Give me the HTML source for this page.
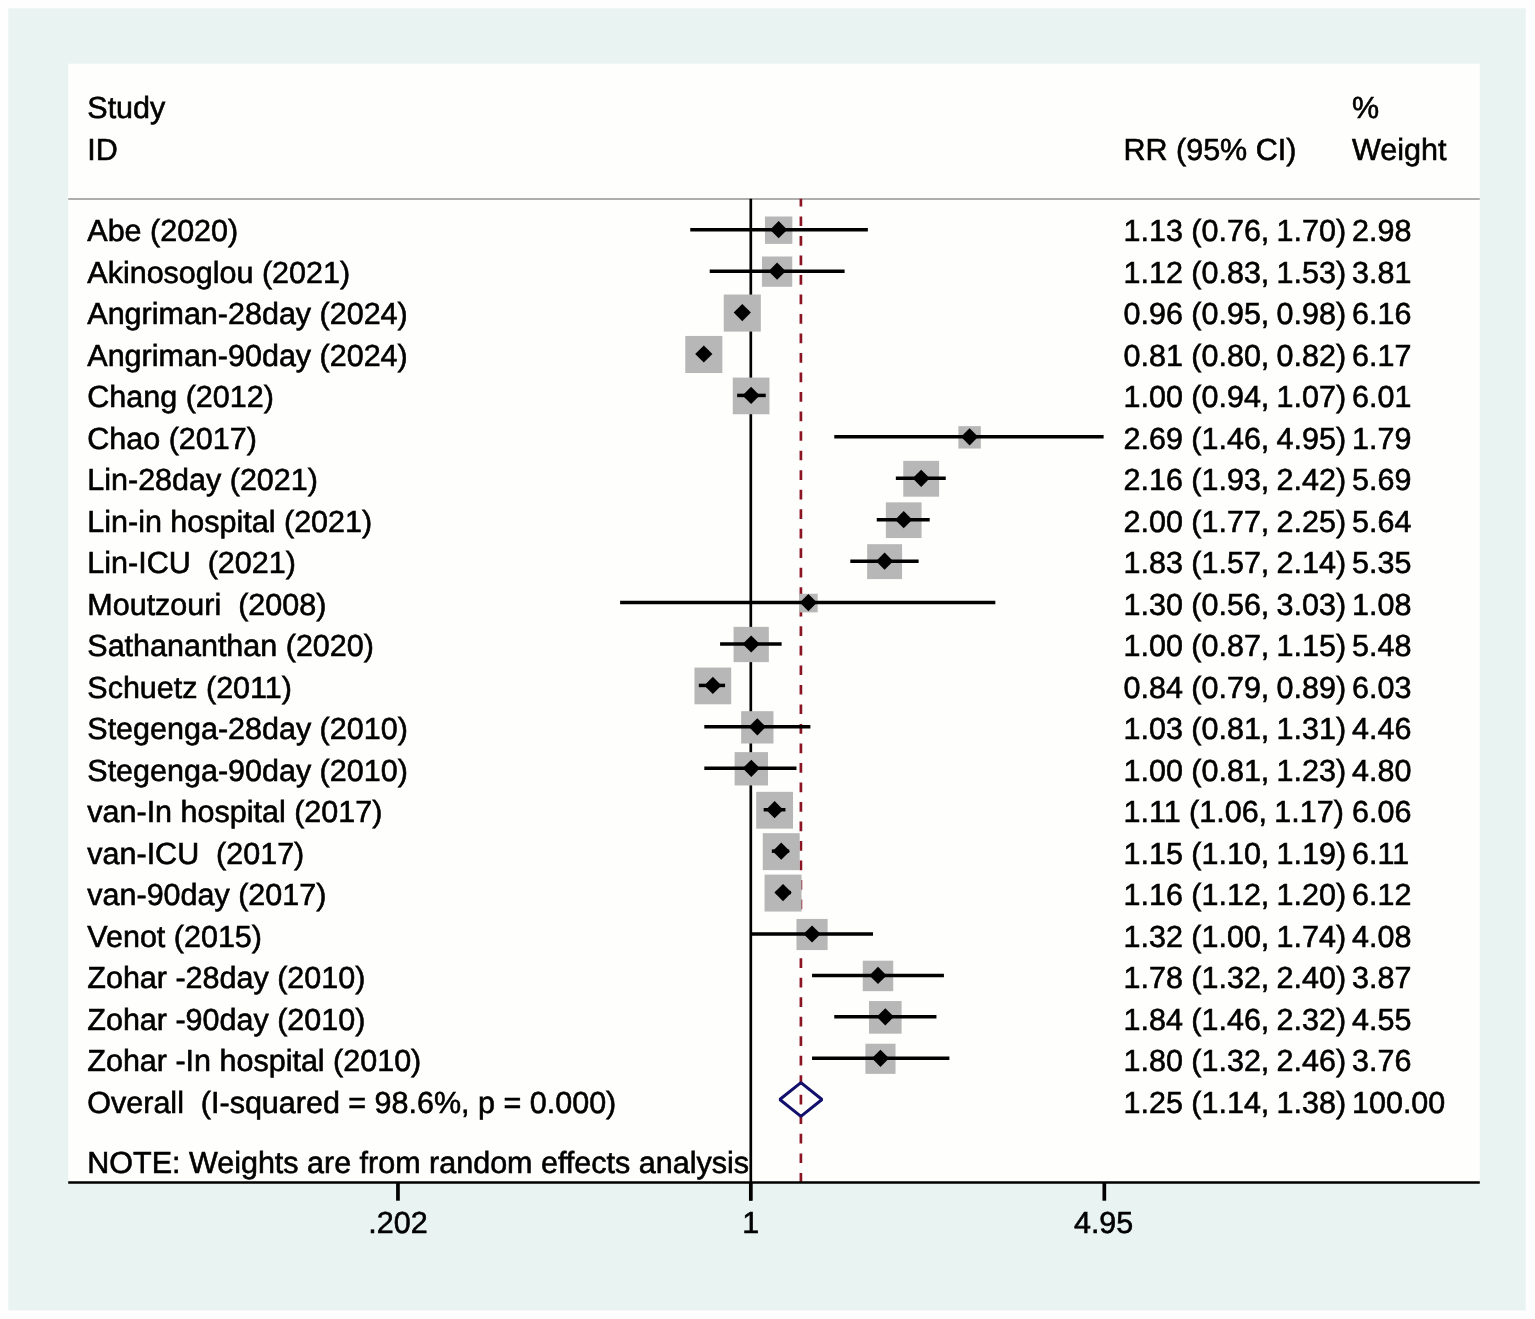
<!DOCTYPE html>
<html lang="en"><head><meta charset="utf-8"><title>Forest plot</title>
<style>html,body{margin:0;padding:0;background:#fff}body{width:1535px;height:1319px;overflow:hidden}svg{display:block}text{font-family:"Liberation Sans",Arial,Helvetica,sans-serif;font-size:30.5px;fill:#000;white-space:pre;text-rendering:geometricPrecision;stroke:#000;stroke-width:0.6px}</style></head><body>
<svg width="1535" height="1319" viewBox="0 0 1535 1319">
<rect x="0" y="0" width="1535" height="1319" fill="#fefefe"/>
<rect x="8.3" y="8.3" width="1517.4" height="1302.1" fill="#e9f3f1"/>
<rect x="68.2" y="63.7" width="1411.6" height="1118.8" fill="#fefefd"/>
<line x1="68.2" y1="199.1" x2="1479.8" y2="199.1" stroke="#aeaeae" stroke-width="2"/>
<line x1="750.8" y1="198.8" x2="750.8" y2="1200.6" stroke="#000" stroke-width="2.7"/>
<clipPath id="c"><rect x="700" y="198.8" width="200" height="983.4"/></clipPath>
<line clip-path="url(#c)" x1="800.9" y1="196.9" x2="800.9" y2="1187.5" stroke="#8a1422" stroke-width="2.7" stroke-dasharray="9.7 9.82"/>
<rect x="764.96" y="216.50" width="27.40" height="27.40" fill="#b7b7b7"/>
<rect x="761.96" y="256.49" width="30.28" height="30.28" fill="#b7b7b7"/>
<rect x="723.76" y="294.53" width="37.07" height="37.07" fill="#b7b7b7"/>
<rect x="685.27" y="335.94" width="37.09" height="37.09" fill="#b7b7b7"/>
<rect x="732.76" y="377.58" width="36.68" height="36.68" fill="#b7b7b7"/>
<rect x="958.38" y="426.14" width="22.43" height="22.43" fill="#b7b7b7"/>
<rect x="903.27" y="460.86" width="35.83" height="35.83" fill="#b7b7b7"/>
<rect x="885.86" y="502.36" width="35.70" height="35.70" fill="#b7b7b7"/>
<rect x="867.16" y="544.19" width="34.91" height="34.91" fill="#b7b7b7"/>
<rect x="799.08" y="593.77" width="18.60" height="18.60" fill="#b7b7b7"/>
<rect x="733.57" y="626.87" width="35.26" height="35.26" fill="#b7b7b7"/>
<rect x="694.47" y="667.56" width="36.73" height="36.73" fill="#b7b7b7"/>
<rect x="741.15" y="711.19" width="32.33" height="32.33" fill="#b7b7b7"/>
<rect x="734.63" y="752.12" width="33.34" height="33.34" fill="#b7b7b7"/>
<rect x="756.22" y="791.82" width="36.81" height="36.81" fill="#b7b7b7"/>
<rect x="762.76" y="833.18" width="36.94" height="36.94" fill="#b7b7b7"/>
<rect x="764.56" y="874.60" width="36.97" height="36.97" fill="#b7b7b7"/>
<rect x="796.47" y="918.93" width="31.15" height="31.15" fill="#b7b7b7"/>
<rect x="862.76" y="960.70" width="30.48" height="30.48" fill="#b7b7b7"/>
<rect x="869.01" y="1001.07" width="32.60" height="32.60" fill="#b7b7b7"/>
<rect x="865.41" y="1043.74" width="30.12" height="30.12" fill="#b7b7b7"/>
<line x1="690.26" y1="229.70" x2="867.86" y2="229.70" stroke="#000" stroke-width="3.5"/>
<path d="M770.06 229.70 L778.66 221.10 L787.26 229.70 L778.66 238.30Z" fill="#000"/>
<line x1="709.70" y1="271.13" x2="844.61" y2="271.13" stroke="#000" stroke-width="3.5"/>
<path d="M768.50 271.13 L777.10 262.53 L785.70 271.13 L777.10 279.73Z" fill="#000"/>
<line x1="739.48" y1="312.56" x2="746.34" y2="312.56" stroke="#000" stroke-width="3.5"/>
<path d="M733.69 312.56 L742.29 303.96 L750.89 312.56 L742.29 321.16Z" fill="#000"/>
<line x1="701.57" y1="353.99" x2="707.02" y2="353.99" stroke="#000" stroke-width="3.5"/>
<path d="M695.21 353.99 L703.81 345.39 L712.41 353.99 L703.81 362.59Z" fill="#000"/>
<line x1="737.15" y1="395.42" x2="765.73" y2="395.42" stroke="#000" stroke-width="3.5"/>
<path d="M742.50 395.42 L751.10 386.82 L759.70 395.42 L751.10 404.02Z" fill="#000"/>
<line x1="834.28" y1="436.85" x2="1103.62" y2="436.85" stroke="#000" stroke-width="3.5"/>
<path d="M960.99 436.85 L969.59 428.25 L978.19 436.85 L969.59 445.45Z" fill="#000"/>
<line x1="895.85" y1="478.28" x2="945.76" y2="478.28" stroke="#000" stroke-width="3.5"/>
<path d="M912.59 478.28 L921.19 469.68 L929.79 478.28 L921.19 486.88Z" fill="#000"/>
<line x1="876.76" y1="519.71" x2="929.69" y2="519.71" stroke="#000" stroke-width="3.5"/>
<path d="M895.11 519.71 L903.71 511.11 L912.31 519.71 L903.71 528.31Z" fill="#000"/>
<line x1="850.31" y1="561.14" x2="918.63" y2="561.14" stroke="#000" stroke-width="3.5"/>
<path d="M876.01 561.14 L884.61 552.54 L893.21 561.14 L884.61 569.74Z" fill="#000"/>
<line x1="620.12" y1="602.57" x2="995.35" y2="602.57" stroke="#000" stroke-width="3.5"/>
<path d="M799.78 602.57 L808.38 593.97 L816.98 602.57 L808.38 611.17Z" fill="#000"/>
<line x1="720.08" y1="644.00" x2="781.63" y2="644.00" stroke="#000" stroke-width="3.5"/>
<path d="M742.60 644.00 L751.20 635.40 L759.80 644.00 L751.20 652.60Z" fill="#000"/>
<line x1="698.80" y1="685.43" x2="725.09" y2="685.43" stroke="#000" stroke-width="3.5"/>
<path d="M704.24 685.43 L712.84 676.83 L721.44 685.43 L712.84 694.03Z" fill="#000"/>
<line x1="704.31" y1="726.86" x2="810.37" y2="726.86" stroke="#000" stroke-width="3.5"/>
<path d="M748.72 726.86 L757.32 718.26 L765.92 726.86 L757.32 735.46Z" fill="#000"/>
<line x1="704.31" y1="768.29" x2="796.47" y2="768.29" stroke="#000" stroke-width="3.5"/>
<path d="M742.70 768.29 L751.30 759.69 L759.90 768.29 L751.30 776.89Z" fill="#000"/>
<line x1="763.65" y1="809.72" x2="785.44" y2="809.72" stroke="#000" stroke-width="3.5"/>
<path d="M766.02 809.72 L774.62 801.12 L783.22 809.72 L774.62 818.32Z" fill="#000"/>
<line x1="771.83" y1="851.15" x2="789.17" y2="851.15" stroke="#000" stroke-width="3.5"/>
<path d="M772.63 851.15 L781.23 842.55 L789.83 851.15 L781.23 859.75Z" fill="#000"/>
<line x1="775.80" y1="892.58" x2="791.02" y2="892.58" stroke="#000" stroke-width="3.5"/>
<path d="M774.44 892.58 L783.04 883.98 L791.64 892.58 L783.04 901.18Z" fill="#000"/>
<line x1="750.80" y1="934.01" x2="872.99" y2="934.01" stroke="#000" stroke-width="3.5"/>
<path d="M803.45 934.01 L812.05 925.41 L820.65 934.01 L812.05 942.61Z" fill="#000"/>
<line x1="812.05" y1="975.44" x2="943.93" y2="975.44" stroke="#000" stroke-width="3.5"/>
<path d="M869.40 975.44 L878.00 966.84 L886.60 975.44 L878.00 984.04Z" fill="#000"/>
<line x1="834.28" y1="1016.87" x2="936.45" y2="1016.87" stroke="#000" stroke-width="3.5"/>
<path d="M876.71 1016.87 L885.31 1008.27 L893.91 1016.87 L885.31 1025.47Z" fill="#000"/>
<line x1="812.05" y1="1058.30" x2="949.38" y2="1058.30" stroke="#000" stroke-width="3.5"/>
<path d="M871.87 1058.30 L880.47 1049.70 L889.07 1058.30 L880.47 1066.90Z" fill="#000"/>
<path d="M779.8 1099.50 L800.9 1082.60 L822.0 1099.50 L800.9 1116.40Z" fill="none" stroke="#12106c" stroke-width="3.0" stroke-linejoin="bevel"/>
<line x1="68.2" y1="1182.5" x2="1479.8" y2="1182.5" stroke="#000" stroke-width="2.6"/>
<line x1="397.95" y1="1182.5" x2="397.95" y2="1200.7" stroke="#000" stroke-width="3.7"/>
<text x="397.95" y="1233.3" text-anchor="middle">.202</text>
<line x1="750.80" y1="1182.5" x2="750.80" y2="1200.7" stroke="#000" stroke-width="3.7"/>
<text x="750.80" y="1233.3" text-anchor="middle">1</text>
<line x1="1104.32" y1="1182.5" x2="1104.32" y2="1200.7" stroke="#000" stroke-width="3.7"/>
<text x="1103.62" y="1233.3" text-anchor="middle">4.95</text>
<text x="87.3" y="118.00" xml:space="preserve">Study</text>
<text x="87.3" y="159.70" xml:space="preserve">ID</text>
<text x="1123.5" y="159.70" xml:space="preserve">RR (95% CI)</text>
<text x="1352" y="118.00" xml:space="preserve">%</text>
<text x="1352" y="159.70" xml:space="preserve">Weight</text>
<text x="87.3" y="241.20" xml:space="preserve">Abe (2020)</text>
<text x="1123.5" y="241.20" xml:space="preserve">1.13 (0.76,<tspan dx="-1.2"> 1.70)</tspan></text>
<text x="1352" y="241.20" xml:space="preserve">2.98</text>
<text x="87.3" y="282.70" xml:space="preserve">Akinosoglou (2021)</text>
<text x="1123.5" y="282.70" xml:space="preserve">1.12 (0.83,<tspan dx="-1.2"> 1.53)</tspan></text>
<text x="1352" y="282.70" xml:space="preserve">3.81</text>
<text x="87.3" y="324.20" xml:space="preserve">Angriman-28day (2024)</text>
<text x="1123.5" y="324.20" xml:space="preserve">0.96 (0.95,<tspan dx="-1.2"> 0.98)</tspan></text>
<text x="1352" y="324.20" xml:space="preserve">6.16</text>
<text x="87.3" y="365.70" xml:space="preserve">Angriman-90day (2024)</text>
<text x="1123.5" y="365.70" xml:space="preserve">0.81 (0.80,<tspan dx="-1.2"> 0.82)</tspan></text>
<text x="1352" y="365.70" xml:space="preserve">6.17</text>
<text x="87.3" y="407.20" xml:space="preserve">Chang (2012)</text>
<text x="1123.5" y="407.20" xml:space="preserve">1.00 (0.94,<tspan dx="-1.2"> 1.07)</tspan></text>
<text x="1352" y="407.20" xml:space="preserve">6.01</text>
<text x="87.3" y="448.70" xml:space="preserve">Chao (2017)</text>
<text x="1123.5" y="448.70" xml:space="preserve">2.69 (1.46,<tspan dx="-1.2"> 4.95)</tspan></text>
<text x="1352" y="448.70" xml:space="preserve">1.79</text>
<text x="87.3" y="490.20" xml:space="preserve">Lin-28day (2021)</text>
<text x="1123.5" y="490.20" xml:space="preserve">2.16 (1.93,<tspan dx="-1.2"> 2.42)</tspan></text>
<text x="1352" y="490.20" xml:space="preserve">5.69</text>
<text x="87.3" y="531.70" xml:space="preserve">Lin-in hospital (2021)</text>
<text x="1123.5" y="531.70" xml:space="preserve">2.00 (1.77,<tspan dx="-1.2"> 2.25)</tspan></text>
<text x="1352" y="531.70" xml:space="preserve">5.64</text>
<text x="87.3" y="573.20" xml:space="preserve">Lin-ICU  (2021)</text>
<text x="1123.5" y="573.20" xml:space="preserve">1.83 (1.57,<tspan dx="-1.2"> 2.14)</tspan></text>
<text x="1352" y="573.20" xml:space="preserve">5.35</text>
<text x="87.3" y="614.70" xml:space="preserve">Moutzouri  (2008)</text>
<text x="1123.5" y="614.70" xml:space="preserve">1.30 (0.56,<tspan dx="-1.2"> 3.03)</tspan></text>
<text x="1352" y="614.70" xml:space="preserve">1.08</text>
<text x="87.3" y="656.20" xml:space="preserve">Sathananthan (2020)</text>
<text x="1123.5" y="656.20" xml:space="preserve">1.00 (0.87,<tspan dx="-1.2"> 1.15)</tspan></text>
<text x="1352" y="656.20" xml:space="preserve">5.48</text>
<text x="87.3" y="697.70" xml:space="preserve">Schuetz (2011)</text>
<text x="1123.5" y="697.70" xml:space="preserve">0.84 (0.79,<tspan dx="-1.2"> 0.89)</tspan></text>
<text x="1352" y="697.70" xml:space="preserve">6.03</text>
<text x="87.3" y="739.20" xml:space="preserve">Stegenga-28day (2010)</text>
<text x="1123.5" y="739.20" xml:space="preserve">1.03 (0.81,<tspan dx="-1.2"> 1.31)</tspan></text>
<text x="1352" y="739.20" xml:space="preserve">4.46</text>
<text x="87.3" y="780.70" xml:space="preserve">Stegenga-90day (2010)</text>
<text x="1123.5" y="780.70" xml:space="preserve">1.00 (0.81,<tspan dx="-1.2"> 1.23)</tspan></text>
<text x="1352" y="780.70" xml:space="preserve">4.80</text>
<text x="87.3" y="822.20" xml:space="preserve">van-In hospital (2017)</text>
<text x="1123.5" y="822.20" xml:space="preserve">1.11 (1.06,<tspan dx="-1.2"> 1.17)</tspan></text>
<text x="1352" y="822.20" xml:space="preserve">6.06</text>
<text x="87.3" y="863.70" xml:space="preserve">van-ICU  (2017)</text>
<text x="1123.5" y="863.70" xml:space="preserve">1.15 (1.10,<tspan dx="-1.2"> 1.19)</tspan></text>
<text x="1352" y="863.70" xml:space="preserve">6.11</text>
<text x="87.3" y="905.20" xml:space="preserve">van-90day (2017)</text>
<text x="1123.5" y="905.20" xml:space="preserve">1.16 (1.12,<tspan dx="-1.2"> 1.20)</tspan></text>
<text x="1352" y="905.20" xml:space="preserve">6.12</text>
<text x="87.3" y="946.70" xml:space="preserve">Venot (2015)</text>
<text x="1123.5" y="946.70" xml:space="preserve">1.32 (1.00,<tspan dx="-1.2"> 1.74)</tspan></text>
<text x="1352" y="946.70" xml:space="preserve">4.08</text>
<text x="87.3" y="988.20" xml:space="preserve">Zohar -28day (2010)</text>
<text x="1123.5" y="988.20" xml:space="preserve">1.78 (1.32,<tspan dx="-1.2"> 2.40)</tspan></text>
<text x="1352" y="988.20" xml:space="preserve">3.87</text>
<text x="87.3" y="1029.70" xml:space="preserve">Zohar -90day (2010)</text>
<text x="1123.5" y="1029.70" xml:space="preserve">1.84 (1.46,<tspan dx="-1.2"> 2.32)</tspan></text>
<text x="1352" y="1029.70" xml:space="preserve">4.55</text>
<text x="87.3" y="1071.20" xml:space="preserve">Zohar -In hospital (2010)</text>
<text x="1123.5" y="1071.20" xml:space="preserve">1.80 (1.32,<tspan dx="-1.2"> 2.46)</tspan></text>
<text x="1352" y="1071.20" xml:space="preserve">3.76</text>
<text x="87.3" y="1112.70" xml:space="preserve">Overall  (I-squared = 98.6%, p = 0.000)</text>
<text x="1123.5" y="1112.70" xml:space="preserve">1.25 (1.14,<tspan dx="-1.2"> 1.38)</tspan></text>
<text x="1352" y="1112.70" xml:space="preserve">100.00</text>
<text x="87.3" y="1173.20" xml:space="preserve">NOTE: Weights are from random effects analysis</text>
</svg></body></html>
